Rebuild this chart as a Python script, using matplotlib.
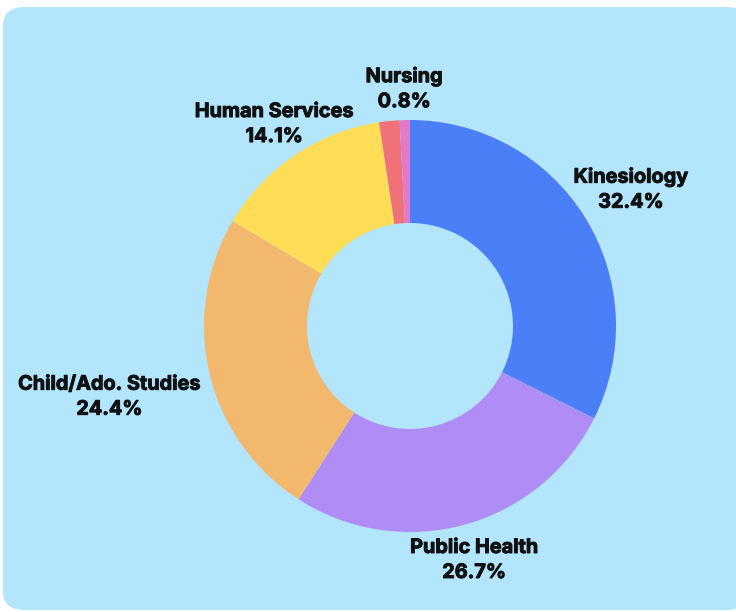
import numpy as np
import matplotlib.pyplot as plt
import matplotlib.patheffects as pe
from matplotlib.patches import FancyBboxPatch

# Data
programs = ['Kinesiology', 'Public Health', 'Child/Ado. Studies', 'Human Services', 'Other', 'Nursing']
shares = [32.4, 26.7, 24.4, 14.1, 1.6, 0.8]
show_label = [True, True, True, True, False, True]

colors = ['#4a7ff7', '#b08cf5', '#f2b96e', '#ffdd57', '#f07178', '#e27acb']
label_dist = [1.26, 1.18, 1.50, 1.18, 1.2, 1.15]

plt.rcParams['font.family'] = ['Inter', 'DejaVu Sans']

fig = plt.figure(figsize=(7.36, 6.12), dpi=100)
fig.patch.set_facecolor('white')

# rounded light-blue card
card = FancyBboxPatch((3 / 736, 2 / 612), 745 / 736, 603 / 612,
                      boxstyle='round,pad=0,rounding_size=0.03',
                      transform=fig.transFigure, facecolor='#b3e5fc',
                      edgecolor='none', zorder=-5)
fig.patches.append(card)

# donut placed so centre ~ (410, 326) px and outer radius ~206 px
R = 206
cx, cy = 410, 612 - 326
ax = fig.add_axes([(cx - R) / 736, (cy - R) / 612, 2 * R / 736, 2 * R / 612])
ax.set_zorder(2)

wedges, _ = ax.pie(shares, colors=colors, startangle=90, counterclock=False,
                   radius=1, wedgeprops=dict(width=0.5, edgecolor='none'))
for w in wedges:
    w.set_clip_on(False)
ax.set_xlim(-1, 1)
ax.set_ylim(-1, 1)
ax.axis('off')

total = sum(shares)
start = 90.0
for name, val, show, d in zip(programs, shares, show_label, label_dist):
    sweep = val / total * 360
    mid = np.deg2rad(start - sweep / 2)
    start -= sweep
    if not show:
        continue
    ax.text(d * np.cos(mid), d * np.sin(mid), f'{name}\n{val}%',
            ha='center', va='center', fontsize=14.3, fontweight='bold',
            color='#111111', linespacing=1.5, clip_on=False,
            path_effects=[pe.withStroke(linewidth=0.7, foreground='#111111')])

fig.savefig('out.png', dpi=100, facecolor='white')
